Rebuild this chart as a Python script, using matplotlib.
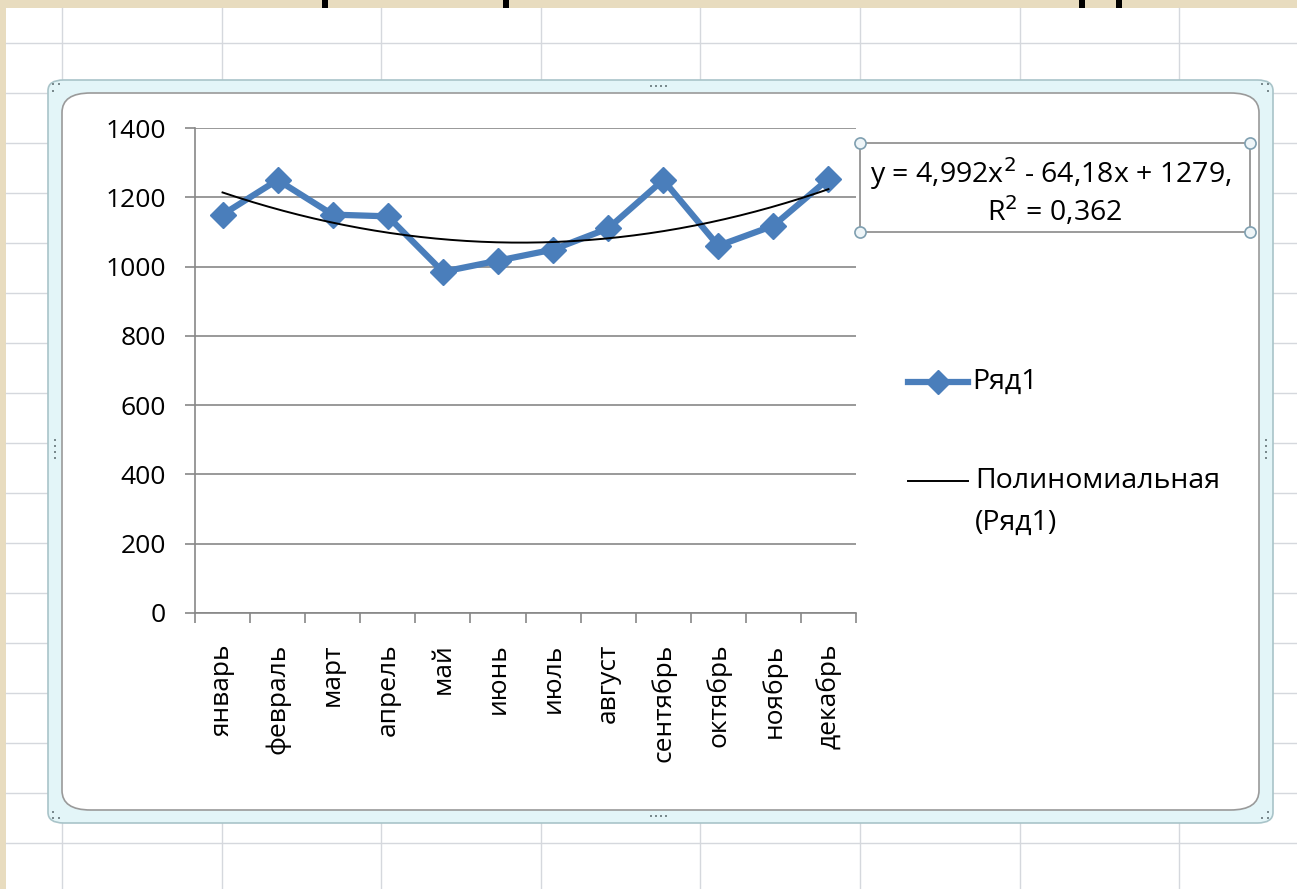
import numpy as np
import matplotlib
matplotlib.use("Agg")
import matplotlib.pyplot as plt
from matplotlib.patches import Rectangle, FancyBboxPatch
from matplotlib.lines import Line2D

plt.rcParams['font.family'] = ['Open Sans', 'DejaVu Sans']

# data
months = ['январь', 'февраль', 'март', 'апрель', 'май', 'июнь',
          'июль', 'август', 'сентябрь', 'октябрь', 'ноябрь', 'декабрь']
values = [1150, 1250, 1150, 1145, 985, 1017, 1049, 1110, 1250, 1060, 1118, 1253]
y_ticks = [0, 200, 400, 600, 800, 1000, 1200, 1400]
eq_text = 'y = 4,992x$^{2}$ - 64,18x + 1279,'
r2_text = 'R$^{2}$ = 0,362'

W, H = 1297, 889
fig = plt.figure(figsize=(W / 100, H / 100), dpi=100)
fig.patch.set_facecolor('white')


def fx(x):
    return x / W


def fy(y):
    return 1 - y / H


# spreadsheet background: beige band, grid lines
fig.add_artist(Rectangle((0, fy(8)), 1, 8 / H, transform=fig.transFigure,
                         facecolor='#e8dcbf', edgecolor='none', zorder=0))
fig.add_artist(Rectangle((0, 0), 6 / W, 1, transform=fig.transFigure,
                         facecolor='#e8dcbf', edgecolor='none', zorder=0))
for bx in [322, 503, 1079, 1116]:
    fig.add_artist(Rectangle((fx(bx), fy(8)), 6 / W, 8 / H, transform=fig.transFigure,
                             facecolor='black', edgecolor='none', zorder=1))
for gx in np.arange(62, W, 159.6):
    fig.add_artist(Line2D([fx(gx), fx(gx)], [0, fy(8)], transform=fig.transFigure,
                          color='#d5d8dd', lw=1, zorder=0.5))
for gy in np.arange(43, H, 50):
    fig.add_artist(Line2D([6 / W, 1], [fy(gy), fy(gy)], transform=fig.transFigure,
                          color='#d5d8dd', lw=1, zorder=0.5))

# chart frame (selected chart look)
fig.add_artist(FancyBboxPatch((fx(48), fy(823)), (1273 - 48) / W, (823 - 80) / H,
                              boxstyle='round,pad=0,rounding_size=0.012',
                              transform=fig.transFigure, facecolor='#e3f5f8',
                              edgecolor='#a9c4c9', lw=1.2, zorder=1))
fig.add_artist(FancyBboxPatch((fx(62), fy(810)), (1259 - 62) / W, (810 - 93) / H,
                              boxstyle='round,pad=0,rounding_size=0.022',
                              transform=fig.transFigure, facecolor='white',
                              edgecolor='#9a9a9a', lw=1.2, zorder=1.1))
for hx, hy in [(53, 84), (59, 84), (53, 91), (1262, 84), (1268, 84), (1268, 91),
               (53, 812), (53, 818), (59, 818), (1268, 812), (1262, 818), (1268, 818),
               (651, 86), (656, 86), (661, 86), (666, 86),
               (651, 816), (656, 816), (661, 816), (666, 816),
               (55, 440), (55, 446), (55, 452), (55, 458),
               (1266, 440), (1266, 446), (1266, 452), (1266, 458)]:
    fig.add_artist(Rectangle((fx(hx - 1.2), fy(hy + 1.2)), 2.4 / W, 2.4 / H,
                             transform=fig.transFigure, facecolor='#7a8a8e',
                             edgecolor='none', zorder=1.2))

# plot area
ax = fig.add_axes([fx(195), fy(613), (856 - 195) / W, (613 - 128) / H])
ax.set_zorder(2)
ax.patch.set_alpha(0)

x = np.arange(len(months)) + 0.5
ax.plot(x, values, color='#4a7ebb', lw=4.5, marker='D', markersize=13,
        solid_joinstyle='miter', zorder=3)

coef = np.polyfit(np.arange(1, 13), values, 2)
xs = np.linspace(1, 12, 200)
ax.plot(xs - 0.5, np.polyval(coef, xs), color='black', lw=1.4, zorder=4)

ax.set_xlim(0, 12)
ax.set_ylim(0, 1400)
ax.set_yticks(y_ticks)
ax.set_yticklabels([str(v) for v in y_ticks], fontsize=19)
ax.yaxis.grid(True, color='#878787', lw=1.2)
ax.set_axisbelow(True)
ax.set_xticks(np.arange(0, 13))
ax.set_xticklabels([])
ax.set_xticks(x, minor=True)
ax.set_xticklabels(months, minor=True, rotation=90, fontsize=19, va='top')
ax.tick_params(axis='x', which='minor', length=0, pad=22)
ax.tick_params(axis='x', which='major', length=7, direction='out', color='#878787', width=1.2)
ax.tick_params(axis='y', length=7, direction='out', color='#878787', width=1.2, pad=14)
for side in ['top', 'right']:
    ax.spines[side].set_visible(False)
for side in ['left', 'bottom']:
    ax.spines[side].set_color('#878787')
    ax.spines[side].set_linewidth(1.2)

# trendline equation box
fig.add_artist(Rectangle((fx(860), fy(232)), (1250 - 860) / W, (232 - 143) / H,
                         transform=fig.transFigure, facecolor='white',
                         edgecolor='#8a8a8a', lw=1.2, zorder=3))
for cx, cy in [(860, 143), (1250, 143), (860, 232), (1250, 232)]:
    fig.add_artist(Line2D([fx(cx)], [fy(cy)], transform=fig.transFigure, marker='o',
                          markersize=8, markerfacecolor='#eef5f8',
                          markeredgecolor='#7f9fb0', markeredgewidth=1.2, zorder=4))
fig.text(fx(1051), fy(174), eq_text, ha='center', va='center', fontsize=20.5, zorder=5)
fig.text(fx(1055), fy(211), r2_text, ha='center', va='center', fontsize=20.5, zorder=5)

# legend
fig.add_artist(Line2D([fx(908), fx(968)], [fy(382), fy(382)], transform=fig.transFigure,
                      color='#4a7ebb', lw=4.5, zorder=5))
fig.add_artist(Line2D([fx(938)], [fy(382)], transform=fig.transFigure, marker='D',
                      markersize=12, color='#4a7ebb', zorder=5))
fig.text(fx(972), fy(382), 'Ряд1', ha='left', va='center', fontsize=20.5, zorder=5)
fig.add_artist(Line2D([fx(908), fx(968)], [fy(481), fy(481)], transform=fig.transFigure,
                      color='black', lw=1.4, zorder=5))
fig.text(fx(975), fy(481), 'Полиномиальная', ha='left', va='center', fontsize=20.5, zorder=5)
fig.text(fx(975), fy(523), '(Ряд1)', ha='left', va='center', fontsize=20.5, zorder=5)

fig.savefig('out.png', dpi=100)
